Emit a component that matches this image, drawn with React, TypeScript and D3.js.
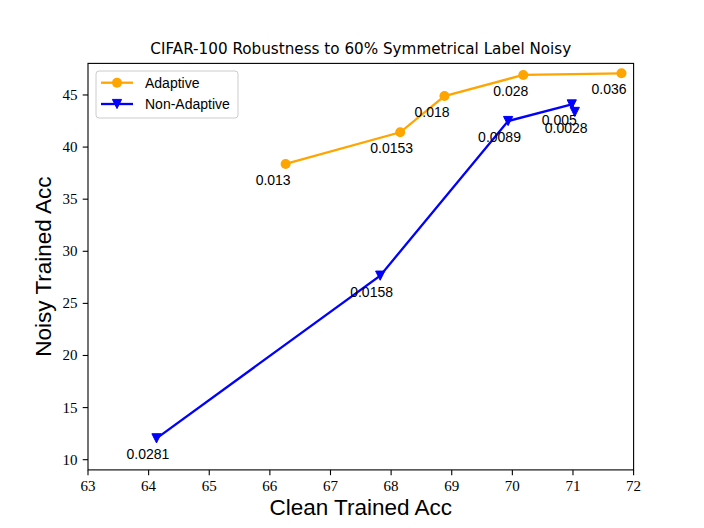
import React from 'react';
import * as d3 from 'd3';

// values
const adaptiveX = [66.26, 68.15, 68.88, 70.18, 71.8];
const adaptiveY = [38.38, 41.42, 44.9, 46.92, 47.08];
const adaptiveLabels = ['0.013', '0.0153', '0.018', '0.028', '0.036'];

const nonAdaptiveX = [64.13, 67.82, 69.93, 70.98, 71.03];
const nonAdaptiveY = [12.05, 27.66, 42.5, 44.09, 43.37];
const nonAdaptiveLabels = ['0.0281', '0.0158', '0.0089', '0.005', '0.0028'];

const xTicks = [63, 64, 65, 66, 67, 68, 69, 70, 71, 72];
const yTicks = [10, 15, 20, 25, 30, 35, 40, 45];

const W = 704;
const H = 528;
const margin = { top: 63.4, right: 70.4, bottom: 58.1, left: 88 };

const sans = '"Liberation Sans", Arial, sans-serif';
const serif = '"Liberation Serif", "DejaVu Serif", serif';

const ORANGE = '#ffa500';
const BLUE = '#0000ff';

const tri = (cx: number, cy: number, r: number) =>
  `M${cx},${cy + r}L${cx - r},${cy - r}L${cx + r},${cy - r}Z`;

export default function App() {
  const x = d3.scaleLinear().domain([63, 72]).range([margin.left, W - margin.right]);
  const y = d3.scaleLinear().domain([9.02, 48.03]).range([H - margin.bottom, margin.top]);

  const line = d3.line<[number, number]>()
    .x(d => x(d[0]))
    .y(d => y(d[1]));

  const adaptive = adaptiveX.map((v, i) => [v, adaptiveY[i]] as [number, number]);
  const nonAdaptive = nonAdaptiveX.map((v, i) => [v, nonAdaptiveY[i]] as [number, number]);

  const x0 = margin.left, x1 = W - margin.right;
  const y0 = H - margin.bottom, y1 = margin.top;

  return (
    <div style={{ position: 'absolute', left: 0, top: 0 }}>
      <svg width={W} height={H} style={{ display: 'block', background: '#fff' }}>
        {/* series */}
        <path d={line(adaptive) ?? ''} fill="none" stroke={ORANGE} strokeWidth={2.3} />
        {adaptive.map((d, i) => (
          <circle key={'a' + i} cx={x(d[0])} cy={y(d[1])} r={5} fill={ORANGE} />
        ))}
        <path d={line(nonAdaptive) ?? ''} fill="none" stroke={BLUE} strokeWidth={2.3} />
        {nonAdaptive.map((d, i) => (
          <path key={'n' + i} d={tri(x(d[0]), y(d[1]), 4.6)} fill={BLUE} stroke={BLUE} strokeWidth={1} />
        ))}

        {/* annotations */}
        {adaptive.map((d, i) => (
          <text key={'al' + i} x={x(d[0]) - 30} y={y(d[1]) + 21} fontFamily={sans} fontSize={14} fill="#000">
            {adaptiveLabels[i]}
          </text>
        ))}
        {nonAdaptive.map((d, i) => (
          <text key={'nl' + i} x={x(d[0]) - 30} y={y(d[1]) + 21} fontFamily={sans} fontSize={14} fill="#000">
            {nonAdaptiveLabels[i]}
          </text>
        ))}

        {/* frame */}
        <rect x={x0} y={y1} width={x1 - x0} height={y0 - y1} fill="none" stroke="#000" strokeWidth={1.1} />

        {/* x axis */}
        {xTicks.map(t => (
          <g key={'xt' + t}>
            <line x1={x(t)} x2={x(t)} y1={y0} y2={y0 + 5.3} stroke="#000" strokeWidth={1.1} />
            <text x={x(t)} y={y0 + 21.5} textAnchor="middle" fontFamily={serif} fontSize={15}>{t}</text>
          </g>
        ))}
        {/* y axis */}
        {yTicks.map(t => (
          <g key={'yt' + t}>
            <line x1={x0 - 5.3} x2={x0} y1={y(t)} y2={y(t)} stroke="#000" strokeWidth={1.1} />
            <text x={x0 - 10.6} y={y(t) + 5} textAnchor="end" fontFamily={serif} fontSize={15}>{t}</text>
          </g>
        ))}

        {/* labels */}
        <text x={(x0 + x1) / 2} y={54} textAnchor="middle" fontFamily={'"DejaVu Sans", sans-serif'} fontSize={15.2}>
          CIFAR-100 Robustness to 60% Symmetrical Label Noisy
        </text>
        <text x={(x0 + x1) / 2} y={515} textAnchor="middle" fontFamily={sans} fontSize={22.5}>
          Clean Trained Acc
        </text>
        <text transform={`translate(51,${(y0 + y1) / 2}) rotate(-90)`} textAnchor="middle" fontFamily={sans} fontSize={22.5}>
          Noisy Trained Acc
        </text>

        {/* legend */}
        <g>
          <rect x={96} y={71} width={142} height={47} rx={3} fill="#fff" fillOpacity={0.8} stroke="#cccccc" strokeWidth={1} />
          <line x1={101} x2={133} y1={82.7} y2={82.7} stroke={ORANGE} strokeWidth={2.3} />
          <circle cx={117} cy={82.7} r={5} fill={ORANGE} />
          <text x={145} y={87.5} fontFamily={sans} fontSize={14}>Adaptive</text>
          <line x1={101} x2={133} y1={104} y2={104} stroke={BLUE} strokeWidth={2.3} />
          <path d={tri(117, 104, 4.6)} fill={BLUE} stroke={BLUE} strokeWidth={1} />
          <text x={145} y={108.8} fontFamily={sans} fontSize={14}>Non-Adaptive</text>
        </g>
      </svg>
    </div>
  );
}
